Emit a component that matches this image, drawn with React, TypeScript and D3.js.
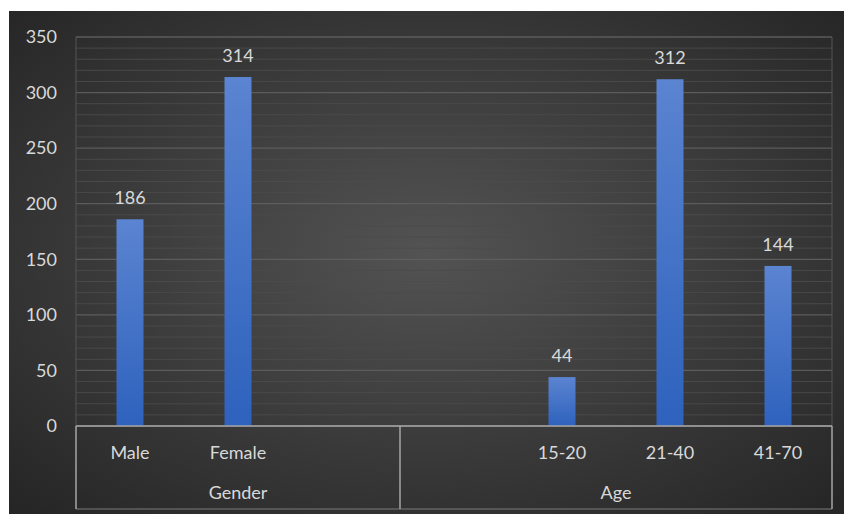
import React from 'react';
import * as d3 from 'd3';

// data
const groups = ['Gender', 'Age'];
const categories = ['Male', 'Female', '', '', '15-20', '21-40', '41-70'];
const categoryGroup = ['Gender', 'Gender', 'Gender', 'Age', 'Age', 'Age', 'Age'];
const values = [186, 314, null, null, 44, 312, 144];
const yTicks = [0, 50, 100, 150, 200, 250, 300, 350];

const W = 844, H = 514;
const margin = { top: 37, right: 12, bottom: 88, left: 76 };

export default function App() {
  const x = d3.scaleBand<number>()
    .domain(d3.range(categories.length))
    .range([margin.left, W - margin.right]);
  const y = d3.scaleLinear().domain([0, 350]).range([H - margin.bottom, margin.top]);
  const minor = d3.range(0, 351, 10);
  const barW = 27;
  const font = 'Lato, "Open Sans", sans-serif';
  const fs = 18;
  const axisBottom = H - 5;

  // group spans
  const spans = groups.map(g => {
    const idx = categoryGroup.map((c, i) => (c === g ? i : -1)).filter(i => i >= 0);
    const x0 = x(idx[0])!;
    const x1 = x(idx[idx.length - 1])! + x.bandwidth();
    return { g, x0, x1 };
  });

  return (
    <div style={{ position: 'absolute', left: 0, top: 0 }}>
      <svg width={W} height={H} style={{ display: 'block' }}>
        <defs>
          <radialGradient id="bg" cx="50%" cy="48%" r="70%">
            <stop offset="0%" stopColor="#535353" />
            <stop offset="100%" stopColor="#262626" />
          </radialGradient>
          <linearGradient id="bar" x1="0" y1="0" x2="0" y2="1">
            <stop offset="0%" stopColor="#5b84d1" />
            <stop offset="100%" stopColor="#2e62bd" />
          </linearGradient>
        </defs>
        <rect x={0} y={0} width={W} height={H} fill="#fff" />
        <rect x={9} y={11} width={W - 9} height={H - 11} fill="url(#bg)" />
        {minor.map(v => (
          <line key={'m' + v} x1={margin.left} x2={W - margin.right} y1={y(v)} y2={y(v)}
            stroke={v % 50 === 0 ? '#606060' : '#4c4c4c'} strokeWidth={v % 50 === 0 ? 1.3 : 1} opacity={0.9} />
        ))}
        <line x1={margin.left} x2={margin.left} y1={margin.top} y2={y(0)} stroke="#555" />
        <line x1={W - margin.right} x2={W - margin.right} y1={margin.top} y2={y(0)} stroke="#555" />
        {yTicks.map(t => (
          <text key={t} x={57} y={y(t)} dy="0.35em" textAnchor="end" fill="#d9d9d9"
            fontSize={fs} fontFamily={font}>{t}</text>
        ))}
        {values.map((v, i) => v == null ? null : (
          <g key={i}>
            <rect x={x(i)! + x.bandwidth() / 2 - barW / 2} y={y(v)} width={barW} height={y(0) - y(v)}
              fill="url(#bar)" />
            <text x={x(i)! + x.bandwidth() / 2} y={y(v) - 15} textAnchor="middle" fill="#d9d9d9"
              fontSize={fs} fontFamily={font}>{v}</text>
          </g>
        ))}
        {/* category axis box */}
        <line x1={margin.left} x2={W - margin.right} y1={y(0)} y2={y(0)} stroke="#a6a6a6" strokeWidth={1.5} />
        <line x1={margin.left} x2={W - margin.right} y1={axisBottom} y2={axisBottom} stroke="#7a7a7a" strokeWidth={1} />
        {[margin.left, spans[1].x0, W - margin.right].map((xx, i) => (
          <line key={i} x1={xx} x2={xx} y1={y(0)} y2={axisBottom} stroke="#a6a6a6" strokeWidth={1.5} />
        ))}
        {categories.map((c, i) => (
          <text key={'c' + i} x={x(i)! + x.bandwidth() / 2} y={y(0) + 27} dy="0.35em" textAnchor="middle"
            fill="#d9d9d9" fontSize={fs} fontFamily={font}>{c}</text>
        ))}
        {spans.map(s => (
          <text key={s.g} x={(s.x0 + s.x1) / 2} y={y(0) + 67} dy="0.35em" textAnchor="middle"
            fill="#d9d9d9" fontSize={fs} fontFamily={font}>{s.g}</text>
        ))}
      </svg>
    </div>
  );
}
